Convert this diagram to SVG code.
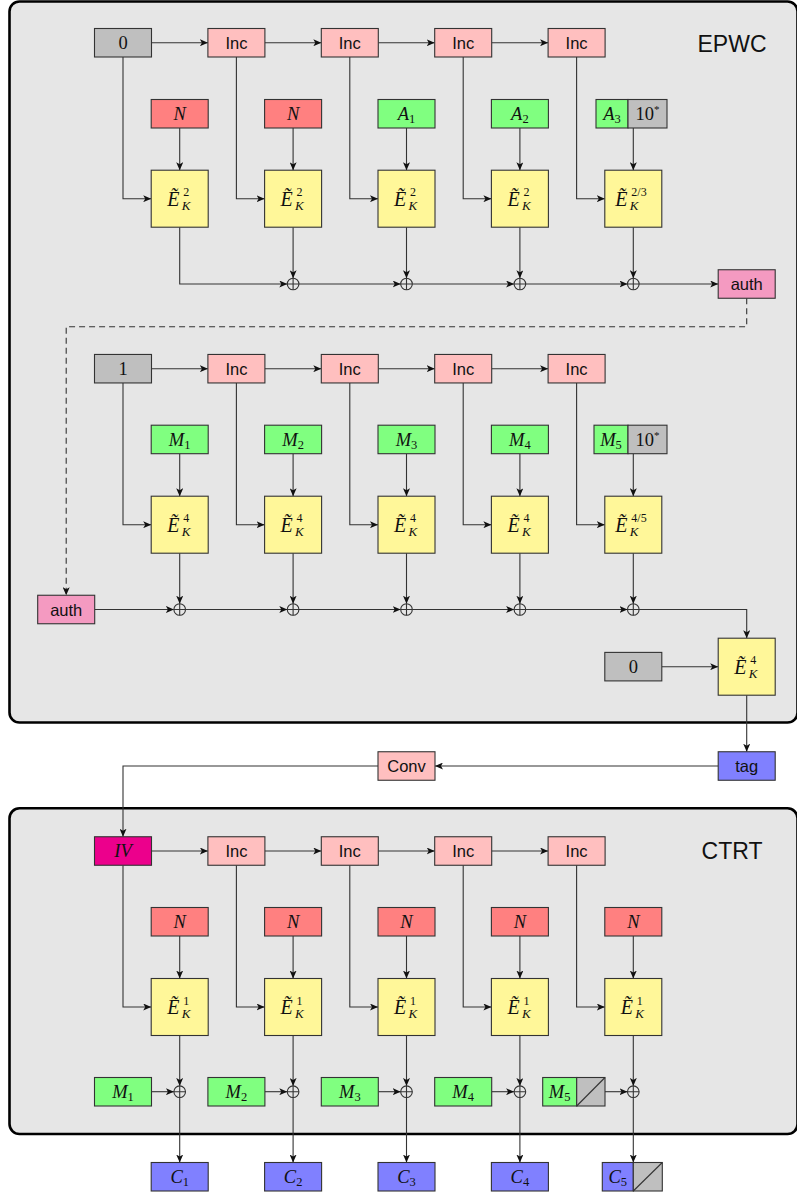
<svg xmlns="http://www.w3.org/2000/svg" width="797" height="1194" viewBox="0 0 797 1194">
<style>
.bx{stroke:#333;stroke-width:1.1}
.gray{fill:#bfbfbf}.inc{fill:#ffbfbf}.red{fill:#ff8080}.grn{fill:#80ff80}.yel{fill:#fff799}.pnk{fill:#f49ac1}.mag{fill:#ec008c}.blu{fill:#8080ff}
.ln{fill:none;stroke:#333;stroke-width:1.1}
.ar{marker-end:url(#ah)}
.dash{stroke-dasharray:6 4}
.panel{fill:#e6e6e6;stroke:#000;stroke-width:2.6}
.sans{font-family:"Liberation Sans",Arial,sans-serif;font-size:16.5px;text-anchor:middle;fill:#111}
.title{font-family:"Liberation Sans",Arial,sans-serif;font-size:23px;text-anchor:middle;fill:#111}
.mi{font-family:"Liberation Serif","Times New Roman",serif;font-style:italic;font-size:18.5px;fill:#111}
.rm{font-family:"Liberation Serif","Times New Roman",serif;font-style:normal;font-size:18.5px;fill:#111}
.c{text-anchor:middle}
.ee{font-size:20px}
.sp{font-family:"Liberation Serif","Times New Roman",serif;font-style:normal;font-size:12px;fill:#111}
.sb{font-family:"Liberation Serif","Times New Roman",serif;font-style:italic;font-size:13px;fill:#111}
.sub{font-style:normal;font-size:12.5px}
.xo{fill:none;stroke:#333;stroke-width:1.1}
</style>
<defs>
<marker id="ah" markerUnits="userSpaceOnUse" markerWidth="9" markerHeight="7" refX="8" refY="3.5" orient="auto">
<path d="M0,0 L8,3.5 L0,7 L2,3.5 Z" fill="#111"/>
</marker>
<g id="xor"><circle r="5.8" class="xo"/><path d="M-5.8,0H5.8M0,-5.8V5.8" class="xo"/></g>
</defs>

<rect class="panel" x="9.5" y="1.5" width="788" height="721" rx="10"/>
<rect class="panel" x="9.5" y="808.3" width="788" height="325.7" rx="10"/>
<text class="title" x="732" y="51.5">EPWC</text>
<text class="title" x="732" y="859.3">CTRT</text>

<g id="connectors">
<path class="ln ar" d="M151.5,42.75H207.9"/>
<path class="ln ar" d="M264.9,42.75H321.3"/>
<path class="ln ar" d="M378.3,42.75H434.7"/>
<path class="ln ar" d="M491.7,42.75H548.1"/>
<path class="ln ar" d="M123,57V198.7H151.2"/>
<path class="ln ar" d="M236.4,57V198.7H264.6"/>
<path class="ln ar" d="M349.8,57V198.7H378"/>
<path class="ln ar" d="M463.2,57V198.7H491.4"/>
<path class="ln ar" d="M576.6,57V198.7H604.8"/>
<path class="ln ar" d="M179.7,128V170.2"/>
<path class="ln ar" d="M293.1,128V170.2"/>
<path class="ln ar" d="M406.5,128V170.2"/>
<path class="ln ar" d="M519.9,128V170.2"/>
<path class="ln ar" d="M633.3,128V170.2"/>
<path class="ln ar" d="M179.7,227.2V284H287.3"/>
<path class="ln ar" d="M293.1,227.2V278.2"/>
<path class="ln ar" d="M406.5,227.2V278.2"/>
<path class="ln ar" d="M519.9,227.2V278.2"/>
<path class="ln ar" d="M633.3,227.2V278.2"/>
<path class="ln ar" d="M298.9,284H400.7"/>
<path class="ln ar" d="M412.3,284H514.1"/>
<path class="ln ar" d="M525.7,284H627.5"/>
<path class="ln ar" d="M639.1,284H718.2"/>
<path class="ln ar dash" d="M746.7,298.3V326.7H66.2V595.2"/>
<path class="ln ar" d="M151.5,368.7H207.9"/>
<path class="ln ar" d="M264.9,368.7H321.3"/>
<path class="ln ar" d="M378.3,368.7H434.7"/>
<path class="ln ar" d="M491.7,368.7H548.1"/>
<path class="ln ar" d="M123,383V524.7H151.2"/>
<path class="ln ar" d="M236.4,383V524.7H264.6"/>
<path class="ln ar" d="M349.8,383V524.7H378"/>
<path class="ln ar" d="M463.2,383V524.7H491.4"/>
<path class="ln ar" d="M576.6,383V524.7H604.8"/>
<path class="ln ar" d="M179.7,453.7V496.2"/>
<path class="ln ar" d="M293.1,453.7V496.2"/>
<path class="ln ar" d="M406.5,453.7V496.2"/>
<path class="ln ar" d="M519.9,453.7V496.2"/>
<path class="ln ar" d="M633.3,453.7V496.2"/>
<path class="ln ar" d="M179.7,553.2V603.7"/>
<path class="ln ar" d="M293.1,553.2V603.7"/>
<path class="ln ar" d="M406.5,553.2V603.7"/>
<path class="ln ar" d="M519.9,553.2V603.7"/>
<path class="ln ar" d="M633.3,553.2V603.7"/>
<path class="ln ar" d="M94.7,609.5H173.9"/>
<path class="ln ar" d="M185.5,609.5H287.3"/>
<path class="ln ar" d="M298.9,609.5H400.7"/>
<path class="ln ar" d="M412.3,609.5H514.1"/>
<path class="ln ar" d="M525.7,609.5H627.5"/>
<path class="ln ar" d="M639.1,609.5H746.7V638.2"/>
<path class="ln ar" d="M661.8,666.7H718.2"/>
<path class="ln ar" d="M746.7,695.2V751.7"/>
<path class="ln ar" d="M718.2,766H435"/>
<path class="ln ar" d="M378,766H123V836.7"/>
<path class="ln ar" d="M151.5,851H207.9"/>
<path class="ln ar" d="M264.9,851H321.3"/>
<path class="ln ar" d="M378.3,851H434.7"/>
<path class="ln ar" d="M491.7,851H548.1"/>
<path class="ln ar" d="M123,865.3V1007H151.2"/>
<path class="ln ar" d="M236.4,865.3V1007H264.6"/>
<path class="ln ar" d="M349.8,865.3V1007H378"/>
<path class="ln ar" d="M463.2,865.3V1007H491.4"/>
<path class="ln ar" d="M576.6,865.3V1007H604.8"/>
<path class="ln ar" d="M179.7,936V978.5"/>
<path class="ln ar" d="M293.1,936V978.5"/>
<path class="ln ar" d="M406.5,936V978.5"/>
<path class="ln ar" d="M519.9,936V978.5"/>
<path class="ln ar" d="M633.3,936V978.5"/>
<path class="ln ar" d="M179.7,1035.5V1085.9"/>
<path class="ln ar" d="M293.1,1035.5V1085.9"/>
<path class="ln ar" d="M406.5,1035.5V1085.9"/>
<path class="ln ar" d="M519.9,1035.5V1085.9"/>
<path class="ln ar" d="M633.3,1035.5V1085.9"/>
<path class="ln ar" d="M179.7,1097.5V1162.5"/>
<path class="ln ar" d="M293.1,1097.5V1162.5"/>
<path class="ln ar" d="M406.5,1097.5V1162.5"/>
<path class="ln ar" d="M519.9,1097.5V1162.5"/>
<path class="ln ar" d="M633.3,1097.5V1162.5"/>
<path class="ln ar" d="M151.5,1091.7H173.9"/>
<path class="ln ar" d="M264.9,1091.7H287.3"/>
<path class="ln ar" d="M378.3,1091.7H400.7"/>
<path class="ln ar" d="M491.7,1091.7H514.1"/>
<path class="ln ar" d="M605,1091.7H627.5"/>
</g>

<g id="xors">
<use href="#xor" x="293.1" y="284"/><use href="#xor" x="406.5" y="284"/><use href="#xor" x="519.9" y="284"/><use href="#xor" x="633.3" y="284"/>
<use href="#xor" x="179.7" y="609.5"/><use href="#xor" x="293.1" y="609.5"/><use href="#xor" x="406.5" y="609.5"/><use href="#xor" x="519.9" y="609.5"/><use href="#xor" x="633.3" y="609.5"/>
<use href="#xor" x="179.7" y="1091.7"/><use href="#xor" x="293.1" y="1091.7"/><use href="#xor" x="406.5" y="1091.7"/><use href="#xor" x="519.9" y="1091.7"/><use href="#xor" x="633.3" y="1091.7"/>
</g>

<g id="zero1"><rect class="bx gray" x="94.5" y="28.5" width="57" height="28.5"/><text class="rm c" x="123" y="49">0</text></g>
<g id="inc11"><rect class="bx inc" x="207.9" y="28.5" width="57" height="28.5"/><text class="sans" x="236.4" y="48.8">Inc</text></g>
<g id="inc12"><rect class="bx inc" x="321.3" y="28.5" width="57" height="28.5"/><text class="sans" x="349.8" y="48.8">Inc</text></g>
<g id="inc13"><rect class="bx inc" x="434.7" y="28.5" width="57" height="28.5"/><text class="sans" x="463.2" y="48.8">Inc</text></g>
<g id="inc14"><rect class="bx inc" x="548.1" y="28.5" width="57" height="28.5"/><text class="sans" x="576.6" y="48.8">Inc</text></g>

<g id="n11"><rect class="bx red" x="151.2" y="99.5" width="57" height="28.5"/><text class="mi c" x="179.7" y="120">N</text></g>
<g id="n12"><rect class="bx red" x="264.6" y="99.5" width="57" height="28.5"/><text class="mi c" x="293.1" y="120">N</text></g>
<g id="a1"><rect class="bx grn" x="378" y="99.5" width="57" height="28.5"/><text class="mi c" x="406.5" y="120">A<tspan class="sub" dy="3">1</tspan></text></g>
<g id="a2"><rect class="bx grn" x="491.4" y="99.5" width="57" height="28.5"/><text class="mi c" x="519.9" y="120">A<tspan class="sub" dy="3">2</tspan></text></g>
<g id="a3"><rect class="bx grn" x="596" y="99.5" width="32" height="28.5"/><rect class="bx gray" x="628" y="99.5" width="39" height="28.5"/><text class="mi c" x="612" y="120">A<tspan class="sub" dy="3">3</tspan></text><text class="rm c" x="647.5" y="120">10<tspan font-size="11" dy="-7">*</tspan></text></g>

<g id="e11" transform="translate(179.7,198.7)"><rect class="bx yel" x="-28.5" y="-28.5" width="57" height="57"/><text class="mi ee" x="-12.5" y="7">Ẽ</text><text class="sp" x="3.5" y="-2.5">2</text><text class="sb" x="2" y="11">K</text></g>
<g id="e12" transform="translate(293.1,198.7)"><rect class="bx yel" x="-28.5" y="-28.5" width="57" height="57"/><text class="mi ee" x="-12.5" y="7">Ẽ</text><text class="sp" x="3.5" y="-2.5">2</text><text class="sb" x="2" y="11">K</text></g>
<g id="e13" transform="translate(406.5,198.7)"><rect class="bx yel" x="-28.5" y="-28.5" width="57" height="57"/><text class="mi ee" x="-12.5" y="7">Ẽ</text><text class="sp" x="3.5" y="-2.5">2</text><text class="sb" x="2" y="11">K</text></g>
<g id="e14" transform="translate(519.9,198.7)"><rect class="bx yel" x="-28.5" y="-28.5" width="57" height="57"/><text class="mi ee" x="-12.5" y="7">Ẽ</text><text class="sp" x="3.5" y="-2.5">2</text><text class="sb" x="2" y="11">K</text></g>
<g id="e15" transform="translate(633.3,198.7)"><rect class="bx yel" x="-28.5" y="-28.5" width="57" height="57"/><text class="mi ee" x="-18" y="7">Ẽ</text><text class="sp" x="-2" y="-2.5">2/3</text><text class="sb" x="-3.5" y="11">K</text></g>

<g id="auth1"><rect class="bx pnk" x="718.2" y="269.75" width="57" height="28.5"/><text class="sans" x="746.7" y="290">auth</text></g>

<g id="one2"><rect class="bx gray" x="94.5" y="354.45" width="57" height="28.5"/><text class="rm c" x="123" y="375">1</text></g>
<g id="inc21"><rect class="bx inc" x="207.9" y="354.45" width="57" height="28.5"/><text class="sans" x="236.4" y="374.8">Inc</text></g>
<g id="inc22"><rect class="bx inc" x="321.3" y="354.45" width="57" height="28.5"/><text class="sans" x="349.8" y="374.8">Inc</text></g>
<g id="inc23"><rect class="bx inc" x="434.7" y="354.45" width="57" height="28.5"/><text class="sans" x="463.2" y="374.8">Inc</text></g>
<g id="inc24"><rect class="bx inc" x="548.1" y="354.45" width="57" height="28.5"/><text class="sans" x="576.6" y="374.8">Inc</text></g>

<g id="m21"><rect class="bx grn" x="151.2" y="425.2" width="57" height="28.5"/><text class="mi c" x="179.7" y="445.7">M<tspan class="sub" dy="3">1</tspan></text></g>
<g id="m22"><rect class="bx grn" x="264.6" y="425.2" width="57" height="28.5"/><text class="mi c" x="293.1" y="445.7">M<tspan class="sub" dy="3">2</tspan></text></g>
<g id="m23"><rect class="bx grn" x="378" y="425.2" width="57" height="28.5"/><text class="mi c" x="406.5" y="445.7">M<tspan class="sub" dy="3">3</tspan></text></g>
<g id="m24"><rect class="bx grn" x="491.4" y="425.2" width="57" height="28.5"/><text class="mi c" x="519.9" y="445.7">M<tspan class="sub" dy="3">4</tspan></text></g>
<g id="m25"><rect class="bx grn" x="594" y="425.2" width="34" height="28.5"/><rect class="bx gray" x="628" y="425.2" width="39" height="28.5"/><text class="mi c" x="611" y="445.7">M<tspan class="sub" dy="3">5</tspan></text><text class="rm c" x="647.5" y="445.7">10<tspan font-size="11" dy="-7">*</tspan></text></g>

<g id="e21" transform="translate(179.7,524.7)"><rect class="bx yel" x="-28.5" y="-28.5" width="57" height="57"/><text class="mi ee" x="-12.5" y="7">Ẽ</text><text class="sp" x="3.5" y="-2.5">4</text><text class="sb" x="2" y="11">K</text></g>
<g id="e22" transform="translate(293.1,524.7)"><rect class="bx yel" x="-28.5" y="-28.5" width="57" height="57"/><text class="mi ee" x="-12.5" y="7">Ẽ</text><text class="sp" x="3.5" y="-2.5">4</text><text class="sb" x="2" y="11">K</text></g>
<g id="e23" transform="translate(406.5,524.7)"><rect class="bx yel" x="-28.5" y="-28.5" width="57" height="57"/><text class="mi ee" x="-12.5" y="7">Ẽ</text><text class="sp" x="3.5" y="-2.5">4</text><text class="sb" x="2" y="11">K</text></g>
<g id="e24" transform="translate(519.9,524.7)"><rect class="bx yel" x="-28.5" y="-28.5" width="57" height="57"/><text class="mi ee" x="-12.5" y="7">Ẽ</text><text class="sp" x="3.5" y="-2.5">4</text><text class="sb" x="2" y="11">K</text></g>
<g id="e25" transform="translate(633.3,524.7)"><rect class="bx yel" x="-28.5" y="-28.5" width="57" height="57"/><text class="mi ee" x="-18" y="7">Ẽ</text><text class="sp" x="-2" y="-2.5">4/5</text><text class="sb" x="-3.5" y="11">K</text></g>

<g id="auth2"><rect class="bx pnk" x="37.7" y="595.25" width="57" height="28.5"/><text class="sans" x="66.2" y="615.5">auth</text></g>
<g id="zero2"><rect class="bx gray" x="604.8" y="652.4" width="57" height="28.5"/><text class="rm c" x="633.3" y="673">0</text></g>
<g id="efin" transform="translate(746.7,666.7)"><rect class="bx yel" x="-28.5" y="-28.5" width="57" height="57"/><text class="mi ee" x="-12.5" y="7">Ẽ</text><text class="sp" x="3.5" y="-2.5">4</text><text class="sb" x="2" y="11">K</text></g>
<g id="tag"><rect class="bx blu" x="718.2" y="751.75" width="57" height="28.5"/><text class="sans" x="746.7" y="771.5">tag</text></g>
<g id="conv"><rect class="bx inc" x="378" y="751.75" width="57" height="28.5"/><text class="sans" x="406.5" y="772">Conv</text></g>

<g id="iv"><rect class="bx mag" x="94.5" y="836.75" width="57" height="28.5"/><text class="mi c" x="123" y="857.2">IV</text></g>
<g id="inc31"><rect class="bx inc" x="207.9" y="836.75" width="57" height="28.5"/><text class="sans" x="236.4" y="857">Inc</text></g>
<g id="inc32"><rect class="bx inc" x="321.3" y="836.75" width="57" height="28.5"/><text class="sans" x="349.8" y="857">Inc</text></g>
<g id="inc33"><rect class="bx inc" x="434.7" y="836.75" width="57" height="28.5"/><text class="sans" x="463.2" y="857">Inc</text></g>
<g id="inc34"><rect class="bx inc" x="548.1" y="836.75" width="57" height="28.5"/><text class="sans" x="576.6" y="857">Inc</text></g>

<g id="n31"><rect class="bx red" x="151.2" y="907.5" width="57" height="28.5"/><text class="mi c" x="179.7" y="928">N</text></g>
<g id="n32"><rect class="bx red" x="264.6" y="907.5" width="57" height="28.5"/><text class="mi c" x="293.1" y="928">N</text></g>
<g id="n33"><rect class="bx red" x="378" y="907.5" width="57" height="28.5"/><text class="mi c" x="406.5" y="928">N</text></g>
<g id="n34"><rect class="bx red" x="491.4" y="907.5" width="57" height="28.5"/><text class="mi c" x="519.9" y="928">N</text></g>
<g id="n35"><rect class="bx red" x="604.8" y="907.5" width="57" height="28.5"/><text class="mi c" x="633.3" y="928">N</text></g>

<g id="e31" transform="translate(179.7,1007)"><rect class="bx yel" x="-28.5" y="-28.5" width="57" height="57"/><text class="mi ee" x="-12.5" y="7">Ẽ</text><text class="sp" x="3.5" y="-2.5">1</text><text class="sb" x="2" y="11">K</text></g>
<g id="e32" transform="translate(293.1,1007)"><rect class="bx yel" x="-28.5" y="-28.5" width="57" height="57"/><text class="mi ee" x="-12.5" y="7">Ẽ</text><text class="sp" x="3.5" y="-2.5">1</text><text class="sb" x="2" y="11">K</text></g>
<g id="e33" transform="translate(406.5,1007)"><rect class="bx yel" x="-28.5" y="-28.5" width="57" height="57"/><text class="mi ee" x="-12.5" y="7">Ẽ</text><text class="sp" x="3.5" y="-2.5">1</text><text class="sb" x="2" y="11">K</text></g>
<g id="e34" transform="translate(519.9,1007)"><rect class="bx yel" x="-28.5" y="-28.5" width="57" height="57"/><text class="mi ee" x="-12.5" y="7">Ẽ</text><text class="sp" x="3.5" y="-2.5">1</text><text class="sb" x="2" y="11">K</text></g>
<g id="e35" transform="translate(633.3,1007)"><rect class="bx yel" x="-28.5" y="-28.5" width="57" height="57"/><text class="mi ee" x="-12.5" y="7">Ẽ</text><text class="sp" x="3.5" y="-2.5">1</text><text class="sb" x="2" y="11">K</text></g>

<g id="m31"><rect class="bx grn" x="94.5" y="1077.5" width="57" height="28.5"/><text class="mi c" x="123" y="1098">M<tspan class="sub" dy="3">1</tspan></text></g>
<g id="m32"><rect class="bx grn" x="207.9" y="1077.5" width="57" height="28.5"/><text class="mi c" x="236.4" y="1098">M<tspan class="sub" dy="3">2</tspan></text></g>
<g id="m33"><rect class="bx grn" x="321.3" y="1077.5" width="57" height="28.5"/><text class="mi c" x="349.8" y="1098">M<tspan class="sub" dy="3">3</tspan></text></g>
<g id="m34"><rect class="bx grn" x="434.7" y="1077.5" width="57" height="28.5"/><text class="mi c" x="463.2" y="1098">M<tspan class="sub" dy="3">4</tspan></text></g>
<g id="m35"><rect class="bx grn" x="542.7" y="1077.5" width="34" height="28.5"/><rect class="bx gray" x="576.7" y="1077.5" width="28.3" height="28.5"/><path class="ln" d="M576.7,1106L605,1077.5"/><text class="mi c" x="559.7" y="1098">M<tspan class="sub" dy="3">5</tspan></text></g>

<g id="c1"><rect class="bx blu" x="151.2" y="1162.5" width="57" height="28.5"/><text class="mi c" x="179.7" y="1183">C<tspan class="sub" dy="3">1</tspan></text></g>
<g id="c2"><rect class="bx blu" x="264.6" y="1162.5" width="57" height="28.5"/><text class="mi c" x="293.1" y="1183">C<tspan class="sub" dy="3">2</tspan></text></g>
<g id="c3"><rect class="bx blu" x="378" y="1162.5" width="57" height="28.5"/><text class="mi c" x="406.5" y="1183">C<tspan class="sub" dy="3">3</tspan></text></g>
<g id="c4"><rect class="bx blu" x="491.4" y="1162.5" width="57" height="28.5"/><text class="mi c" x="519.9" y="1183">C<tspan class="sub" dy="3">4</tspan></text></g>
<g id="c5"><rect class="bx blu" x="602.3" y="1162.5" width="31" height="28.5"/><rect class="bx gray" x="633.3" y="1162.5" width="29" height="28.5"/><path class="ln" d="M633.3,1191L662.3,1162.5"/><text class="mi c" x="617.8" y="1183">C<tspan class="sub" dy="3">5</tspan></text></g>
</svg>
